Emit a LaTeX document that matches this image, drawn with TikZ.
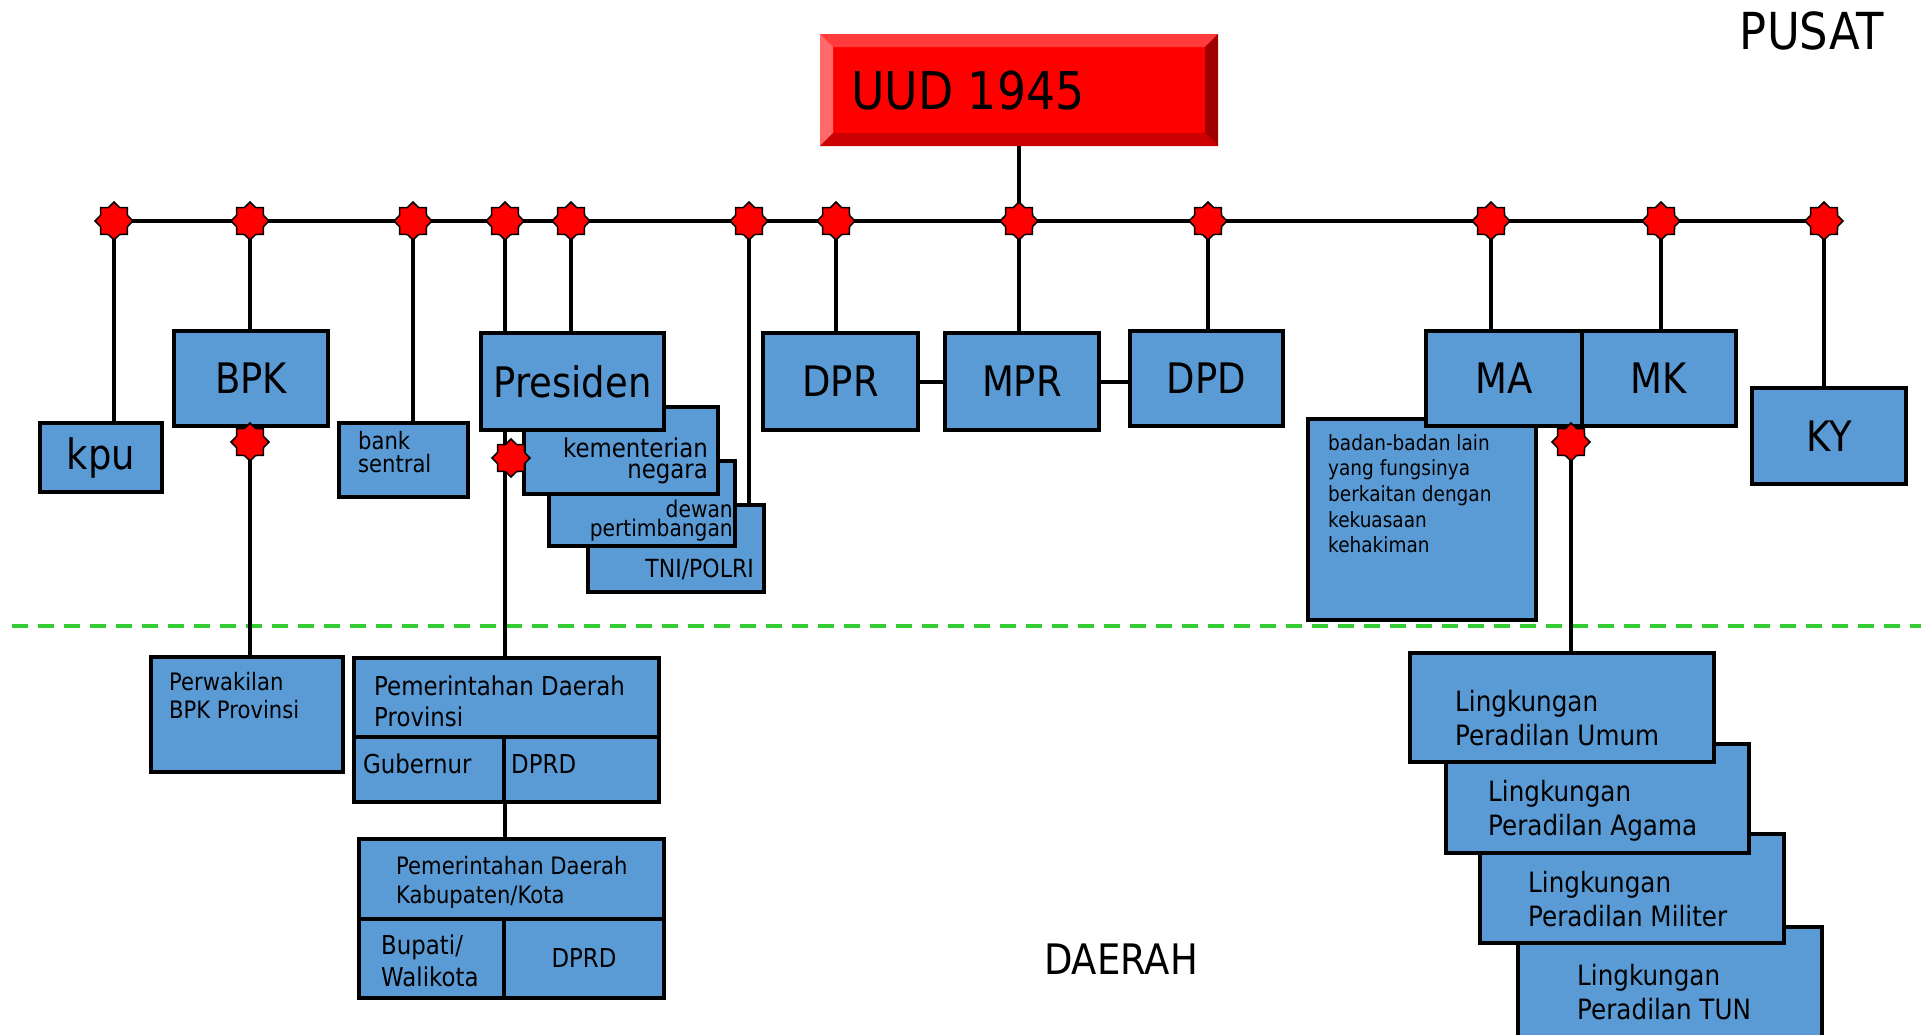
\documentclass[tikz,border=0pt]{standalone}
\usepackage{fontspec}
\setmainfont{DejaVu Sans}[FakeStretch=0.88]
\usepackage{tikz}
\usetikzlibrary{shapes.geometric}
\definecolor{boxblue}{HTML}{5B9BD5}
\definecolor{dashgreen}{HTML}{33CC33}
\definecolor{uudface}{HTML}{FF0000}
\definecolor{uudtop}{HTML}{FF3B3B}
\definecolor{uudleft}{HTML}{FF6B6B}
\definecolor{uudright}{HTML}{A00000}
\definecolor{uudbottom}{HTML}{CC0000}
\tikzstyle{box}=[draw=black,fill=boxblue,line width=4.5pt,inner sep=0pt]
\tikzstyle{knot}=[star,star points=8,star point ratio=1.3,draw=black,fill=red,line width=1.5pt,minimum size=38pt,inner sep=0pt]
\tikzstyle{txt}=[inner sep=0pt,align=left]
\tikzstyle{link}=[line width=4pt]
\tikzstyle{bigtext}=[font=\fontsize{42}{50}\selectfont]

\begin{document}
\begin{tikzpicture}[x=1pt,y=-1pt]
  \useasboundingbox (0,0) rectangle (1921,1034);

  % pusat / daerah border
  \draw[dashgreen,line width=4pt,dash pattern=on 16pt off 10pt] (12,626) -- (1921,626);

  % UUD 1945 with bevel
  \node[fill=uudface,minimum width=398,minimum height=112,inner sep=0pt,outer sep=0pt] (uud) at (1019,90) {};
  \fill[uudtop] (uud.north west) -- (uud.north east) -- ++(-13,13) -- ++(-372,0) -- cycle;
  \fill[uudleft] (uud.north west) -- ++(13,13) -- ++(0,86) -- (uud.south west) -- cycle;
  \fill[uudright] (uud.north east) -- ++(-13,13) -- ++(0,86) -- (uud.south east) -- cycle;
  \fill[uudbottom] (uud.south west) -- ++(13,-13) -- ++(372,0) -- (uud.south east) -- cycle;
  \node[anchor=west,inner sep=0pt,font=\fontsize{52}{60}\selectfont] (uudtext) at (851,91) {UUD 1945};

  \node[anchor=north east,inner sep=0pt,font=\fontsize{51}{60}\selectfont] (pusat) at (1884,11) {PUSAT};
  \node[inner sep=0pt,font=\fontsize{42}{50}\selectfont] (daerah) at (1121,959) {DAERAH};

  \foreach \x [count=\i] in {114,250,413,505,571,749,836,1019,1208,1491,1661,1824}{
    \coordinate (p\i) at (\x,221);
  }
  \coordinate (pbpk) at (250,442);
  \coordinate (ppres) at (511,458);
  \coordinate (pma) at (1571,442);

  % pusat
  \node[box,bigtext,minimum width=122,minimum height=69] (kpu) at (101,457.5) {kpu};
  \node[box,bigtext,minimum width=154,minimum height=95] (bpk) at (251,378.5) {BPK};
  \node[box,minimum width=129,minimum height=74] (bank) at (403.5,460) {};
  \node[txt,anchor=north west,font=\fontsize{24}{23}\selectfont] (banktxt) at (358,431) {bank\\sentral};

  \node[box,minimum width=176,minimum height=87] (tni) at (676,548.5) {};
  \node[txt,anchor=north east,font=\fontsize{25}{30}\selectfont] (tnitxt) at (754,559) {TNI/POLRI};
  \node[box,minimum width=186,minimum height=85] (dewan) at (642,503.5) {};
  \node[txt,align=right,anchor=north east,font=\fontsize{23}{19}\selectfont] (dewantxt) at (733,500) {dewan\\pertimbangan};
  \node[box,minimum width=194,minimum height=87] (kem) at (621,450.5) {};
  \node[txt,align=right,anchor=north east,font=\fontsize{26}{21}\selectfont] (kemtxt) at (708,438) {kementerian\\negara};
  \node[box,bigtext,minimum width=183,minimum height=97] (pres) at (572.5,381.5) {Presiden};

  \node[box,bigtext,minimum width=155,minimum height=97] (dpr) at (840.5,381.5) {DPR};
  \node[box,bigtext,minimum width=154,minimum height=97] (mpr) at (1022,381.5) {MPR};
  \node[box,bigtext,minimum width=153,minimum height=95] (dpd) at (1206.5,378.5) {DPD};

  \node[box,minimum width=228,minimum height=201] (badan) at (1422,519.5) {};
  \node[txt,anchor=north west,font=\fontsize{21}{25.7}\selectfont] (badantxt) at (1328,434)
    {badan-badan lain\\yang fungsinya\\berkaitan dengan\\kekuasaan\\kehakiman};
  \node[box,bigtext,minimum width=156,minimum height=95] (ma) at (1504,378.5) {MA};
  \node[box,bigtext,minimum width=154,minimum height=95] (mk) at (1659,378.5) {MK};
  \node[box,bigtext,minimum width=154,minimum height=96] (ky) at (1829,436) {KY};

  % daerah
  \node[box,minimum width=192,minimum height=115] (perw) at (247,714.5) {};
  \node[txt,anchor=north west,font=\fontsize{24}{28}\selectfont] (perwtxt) at (169,672) {Perwakilan\\BPK Provinsi};

  \node[box,minimum width=305,minimum height=79] (provhead) at (506.5,697.5) {};
  \node[box,minimum width=150,minimum height=65] (gub) at (429,769.5) {};
  \node[box,minimum width=155,minimum height=65] (provdprd) at (581.5,769.5) {};
  \node[txt,anchor=north west,font=\fontsize{26}{31}\selectfont] (provtxt) at (374,676) {Pemerintahan Daerah\\Provinsi};
  \node[txt,anchor=north west,font=\fontsize{26}{31}\selectfont] (gubtxt) at (363,754) {Gubernur};
  \node[txt,anchor=north west,font=\fontsize{26}{31}\selectfont] (provdprdtxt) at (511,754) {DPRD};

  \node[box,minimum width=305,minimum height=80] (kabhead) at (511.5,879) {};
  \node[box,minimum width=145,minimum height=79] (bupati) at (431.5,958.5) {};
  \node[box,minimum width=160,minimum height=79,font=\fontsize{26}{31}\selectfont] (kabdprd) at (584,958.5) {DPRD};
  \node[txt,anchor=north west,font=\fontsize{24}{29}\selectfont] (kabtxt) at (396,856) {Pemerintahan Daerah\\Kabupaten/Kota};
  \node[txt,anchor=north west,font=\fontsize{26}{32}\selectfont] (bupatitxt) at (381,935) {Bupati/\\Walikota};

  \node[box,minimum width=304,minimum height=113] (tun) at (1670,983.5) {};
  \node[txt,anchor=north west,font=\fontsize{28}{34}\selectfont] (tuntxt) at (1577,964) {Lingkungan\\Peradilan TUN};
  \node[box,minimum width=304,minimum height=109] (militer) at (1632,888.5) {};
  \node[txt,anchor=north west,font=\fontsize{28}{34}\selectfont] (militertxt) at (1528,871) {Lingkungan\\Peradilan Militer};
  \node[box,minimum width=303,minimum height=109] (agama) at (1597.5,798.5) {};
  \node[txt,anchor=north west,font=\fontsize{28}{34}\selectfont] (agamatxt) at (1488,780) {Lingkungan\\Peradilan Agama};
  \node[box,minimum width=304,minimum height=109] (umum) at (1562,707.5) {};
  \node[txt,anchor=north west,font=\fontsize{28}{34}\selectfont] (umumtxt) at (1455,690) {Lingkungan\\Peradilan Umum};

  % connectors
  \draw[link] (p1) -- (p12);
  \draw[link] (uud.south) -- (uud.south |- p8);
  \draw[link] (p1) -- (p1 |- kpu.north);
  \draw[link] (p2) -- (p2 |- bpk.north);
  \draw[link] (p3) -- (p3 |- bank.north);
  \draw[link] (p4) -- (p4 |- pres.north);
  \draw[link] (p5) -- (p5 |- pres.north);
  \draw[link] (p6) -- (p6 |- tni.north);
  \draw[link] (p7) -- (p7 |- dpr.north);
  \draw[link] (p8) -- (p8 |- mpr.north);
  \draw[link] (p9) -- (p9 |- dpd.north);
  \draw[link] (p10) -- (p10 |- ma.north);
  \draw[link] (p11) -- (p11 |- mk.north);
  \draw[link] (p12) -- (p12 |- ky.north);
  \draw[link] (dpr) -- (mpr);
  \draw[link] (mpr.east) -- (mpr.east -| dpd.west);
  \draw[link] (pbpk |- bpk.south) -- (pbpk |- perw.north);
  \draw[link] (p4 |- pres.south) -- (p4 |- provhead.north);
  \draw[link] (p4 |- gub.south) -- (p4 |- kabhead.north);
  \draw[link] (pma) -- (pma |- umum.north);

  % knots
  \foreach \i in {1,...,12}{
    \node[knot] (s\i) at (p\i) {};
  }
  \node[knot] (sbpk) at (pbpk) {};
  \node[knot] (spres) at (ppres) {};
  \node[knot] (sma) at (pma) {};
\end{tikzpicture}
\end{document}
